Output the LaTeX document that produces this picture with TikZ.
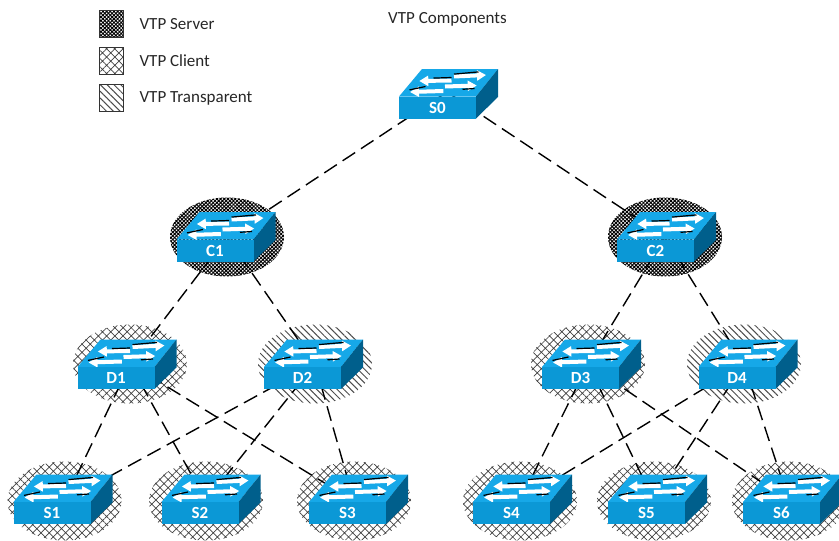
\documentclass[tikz,border=0pt]{standalone}
\usepackage{fontspec}
\setmainfont{Carlito}
\usepackage{tikz}
\usetikzlibrary{arrows.meta, patterns.meta, positioning, shapes.geometric}
\pgfdeclarelayer{ovals}
\pgfdeclarelayer{links}
\pgfsetlayers{ovals, links, main}
\definecolor{topblue}{HTML}{16A8E8}
\definecolor{frontblue}{HTML}{0B98D6}
\definecolor{sideblue}{HTML}{005F8C}
\tikzset{
    server/.style={pattern={Hatch[angle=45, distance=2.6pt, line width=.95pt]}, pattern color=black},
    client/.style={pattern={Hatch[angle=45, distance=5.8pt, line width=.7pt]}, pattern color=black!75},
    transparent/.style={pattern={Lines[angle=-45, distance=4.8pt, line width=1pt]}, pattern color=black!70},
    oval/.style={ellipse, inner sep=0pt, minimum width=114pt, minimum height=79pt},
    hub/.style={inner sep=0pt, minimum size=0pt},
    legendkey/.style={draw=black!80, line width=.8pt, inner sep=0pt, minimum width=24pt, minimum height=27pt},
    legendtext/.style={font=\fontsize{17}{19}\selectfont, text=black!85, inner sep=0pt},
    frontface/.style={fill=frontblue, inner sep=0pt, minimum width=77pt, minimum height=22pt, text=white, font=\fontsize{17}{19}\selectfont\bfseries},
    link/.style={line width=1.4pt, dash pattern=on 15pt off 7pt},
    flow/.style={white, line width=4pt, -{Triangle[width=10pt, length=9pt]}},
    mark line/.style={black, line width=1.2pt},
    pics/switchbody/.style={code={
        \fill [topblue] (-38.5, -11) -- (38.5, -11) -- (60.5, -38.5) -- (-15.5, -38.5) -- cycle;
        \fill [sideblue] (38.5, -11) -- (60.5, -38.5) -- (60.5, -10.5) -- (38.5, 11) -- cycle;
        \draw [flow] (14, -27) -- (-18.2, -26.5);
        \draw [flow] (16.5, -31) -- (48.5, -32.5);
        \draw [flow] (5.8, -16.5) -- (-27.5, -15.5);
        \draw [flow] (7.5, -21) -- (39.2, -22);
        \draw [mark line] (-4, -29.4) -- (14, -30) (16.5, -33.4) -- (41, -35.6);
        \draw [mark line] (-28, -17.6) -- (-12, -21) (25, -18.2) -- (37, -19);
    }},
}
\begin{document}
\begin{tikzpicture}[x=1pt, y=-1pt]
    \useasboundingbox (0, 0) rectangle (839, 541);
    \begin{pgfonlayer}{ovals}
    \node [hub] (S0) at (447, 92) {};
    \foreach \n/\x/\y/\k in {C1/227/237/server, C2/665/237/server,
    D1/130/364/client, D2/315/364/transparent, D3/588/364/client, D4/744/364/transparent,
    S1/64.5/501/client, S2/206/501/client, S3/354/501/client,
    S4/520/501/client, S5/654/501/client, S6/789/501/client}
    \node [oval, \k] (\n) at (\x, \y) {};
    \end{pgfonlayer}
    \begin{pgfonlayer}{links}
    \foreach \a/\b in {S0/C1, S0/C2, C1/D1, C1/D2, C2/D3, C2/D4,
    D1/S1, D1/S2, D1/S3, D2/S1, D2/S2, D2/S3,
    D3/S4, D3/S5, D3/S6, D4/S4, D4/S5, D4/S6}
    \draw [link] (\a.center) -- (\b.center);
    \end{pgfonlayer}
    \foreach \n/\x/\y in {S0/437.5/107.5, C1/215/250.5, C2/655.5/250.5,
    D1/116/378, D2/302.5/378, D3/580.5/378, D4/737/378,
    S1/52/513, S2/200/513, S3/347.5/513, S4/511.5/513, S5/646.5/513, S6/781.5/513} {
    \pic at (\x, \y) {switchbody};
    \node [frontface] (\n box) at (\x, \y) {\n\hspace{3pt}};
    }
    \node [legendkey, server] (keyserver) at (111, 24) {};
    \node [legendkey, client] (keyclient) at (111, 61) {};
    \node [legendkey, transparent] (keytransparent) at (111, 98) {};
    \node [legendtext, right=16pt of keyserver] (textserver) {VTP Server};
    \node [legendtext, right=16pt of keyclient] (textclient) {VTP Client};
    \node [legendtext, right=16pt of keytransparent] (texttransparent) {VTP Transparent};
    \node [legendtext] (title) at (447.5, 19) {VTP Components};
\end{tikzpicture}
\end{document}
